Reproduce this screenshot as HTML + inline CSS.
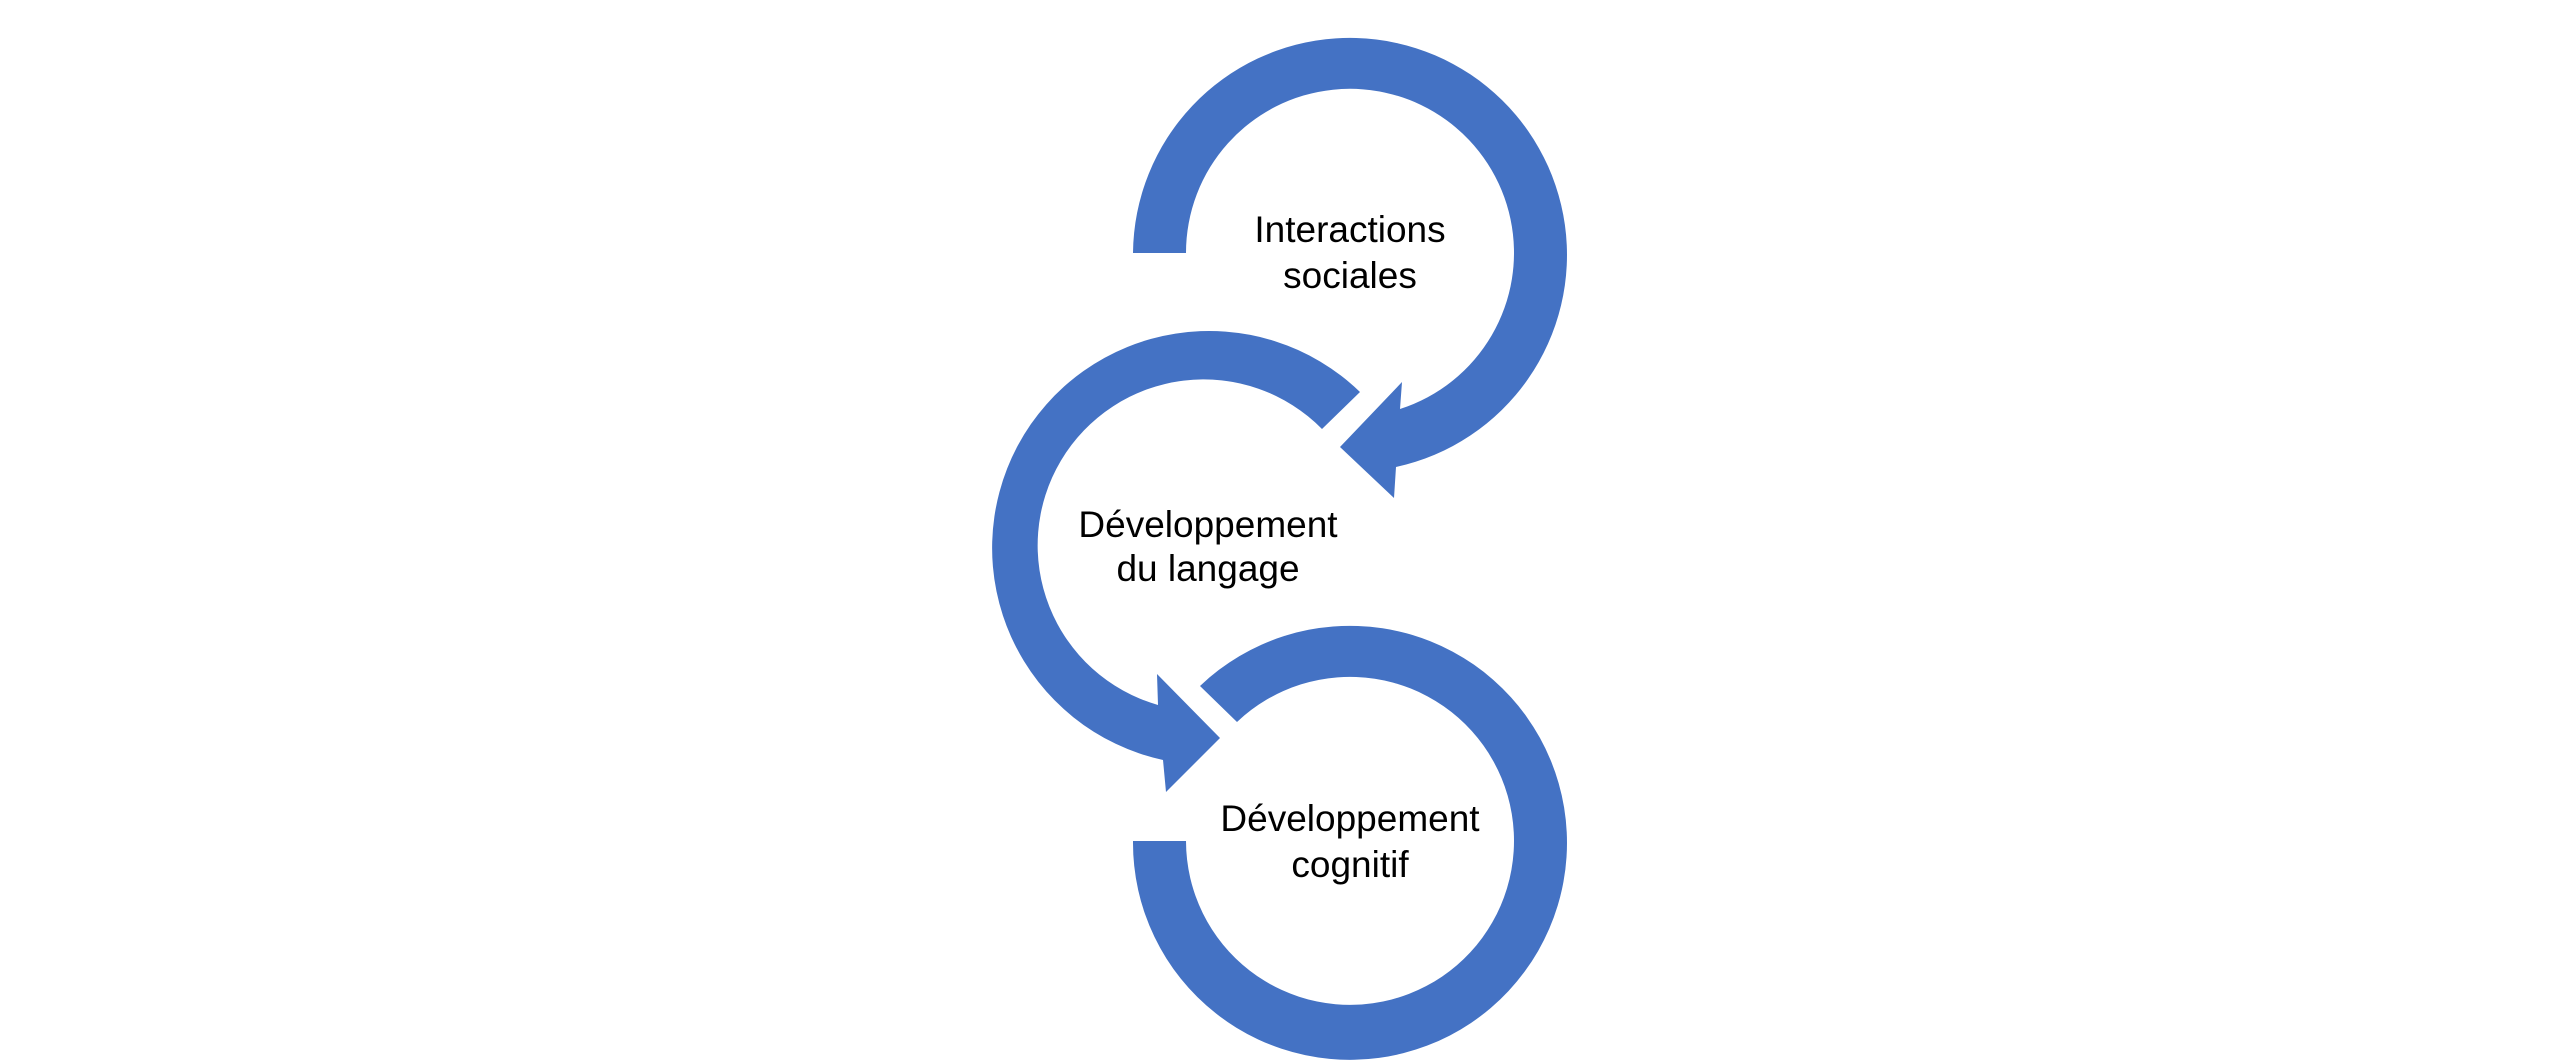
<!DOCTYPE html>
<html><head><meta charset="utf-8"><style>
html,body{margin:0;padding:0;background:#fff;}
svg{display:block;}
text{font-family:"Liberation Sans",sans-serif;font-size:37px;fill:#000;text-anchor:middle;dominant-baseline:middle;}
</style></head><body>
<svg width="2560" height="1061" viewBox="0 0 2560 1061" xmlns="http://www.w3.org/2000/svg">
<g fill="#4472C4">
<path d="M1133,253 A217,217 0 1 1 1396,467 L1394,498 L1340,447 L1402,382 L1400,409 A164,164 0 1 0 1186,253 Z"/>
<path d="M1360,392 A217,217 0 1 0 1163,760 L1166,792 L1220,738 L1157,674 L1158,705 A166,166 0 1 1 1322,429 Z"/>
<path d="M1200,686 A217,217 0 1 1 1133,841 L1186,841 A164,164 0 1 0 1237,722 Z"/>
</g>
<text x="1350" y="232">Interactions</text>
<text x="1350" y="278">sociales</text>
<text x="1208" y="527">Développement</text>
<text x="1208" y="571">du langage</text>
<text x="1350" y="821">Développement</text>
<text x="1350" y="867">cognitif</text>
</svg>
</body></html>
